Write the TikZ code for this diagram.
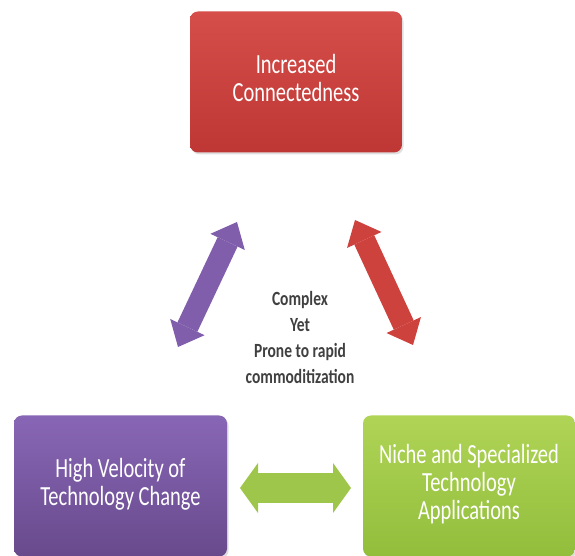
\documentclass[tikz,border=0pt]{standalone}
\usepackage{fontspec}
\usepackage{graphicx}
\setmainfont{Carlito}
\usetikzlibrary{arrows.meta,shadows}

\definecolor{redtop}{RGB}{214,78,74}
\definecolor{redbot}{RGB}{190,55,52}
\definecolor{purtop}{RGB}{136,102,182}
\definecolor{purbot}{RGB}{104,74,140}
\definecolor{grntop}{RGB}{176,212,86}
\definecolor{grnbot}{RGB}{146,190,60}
\definecolor{redarr}{RGB}{206,66,62}
\definecolor{purarr}{RGB}{128,94,172}
\definecolor{grnarr}{RGB}{158,198,74}

\newcommand{\tall}[2]{\scalebox{1}[#1]{\begin{tabular}{@{}c@{}}#2\end{tabular}}}

\begin{document}
\begin{tikzpicture}[x=1pt,y=1pt,
    block/.style={rounded corners=8pt,minimum width=212pt,minimum height=141pt,
      inner sep=0pt,text=white,font=\fontsize{20.5pt}{20.6pt}\selectfont,
      drop shadow={opacity=0.25,shadow xshift=1.5pt,shadow yshift=-2pt}},
    link/.style={line width=22pt,
      >={Triangle[length=22pt 0 0,width=38pt 0 0,line width'=0pt]},<->},
    flat/.style={line width=30pt,
      >={Triangle[length=18pt 0 0,width=50pt 0 0,line width'=0pt]},<->},
    note/.style={text=black!75,font=\bfseries\fontsize{15.5pt}{20pt}\selectfont}
]
\useasboundingbox (0,0) rectangle (575,556);

\node[block,top color=redtop,bottom color=redbot] (conn) at (296,474)
  {\tall{1.35}{Increased\\Connectedness}};
\node[block,top color=purtop,bottom color=purbot,minimum width=213pt] (velocity) at (120.5,70)
  {\tall{1.35}{High Velocity of\\Technology Change}};
\node[block,top color=grntop,bottom color=grnbot] (niche) at (469,70)
  {\tall{1.35}{Niche and Specialized\\Technology\\Applications}};

\node[note] (mid) at (300,217)
  {\tall{1.3}{Complex\\Yet\\Prone to rapid\\commoditization}};

\coordinate (pT) at (237,334);
\coordinate (pB) at (178,209);
\coordinate (rT) at (355,336);
\coordinate (rB) at (413,211);
\coordinate (gL) at (240,68);
\coordinate (gR) at (351,68);

\draw[link,draw=purarr] (pT) -- (pB);
\draw[link,draw=redarr] (rT) -- (rB);
\draw[flat,draw=grnarr] (gL) -- (gR);

\end{tikzpicture}
\end{document}
